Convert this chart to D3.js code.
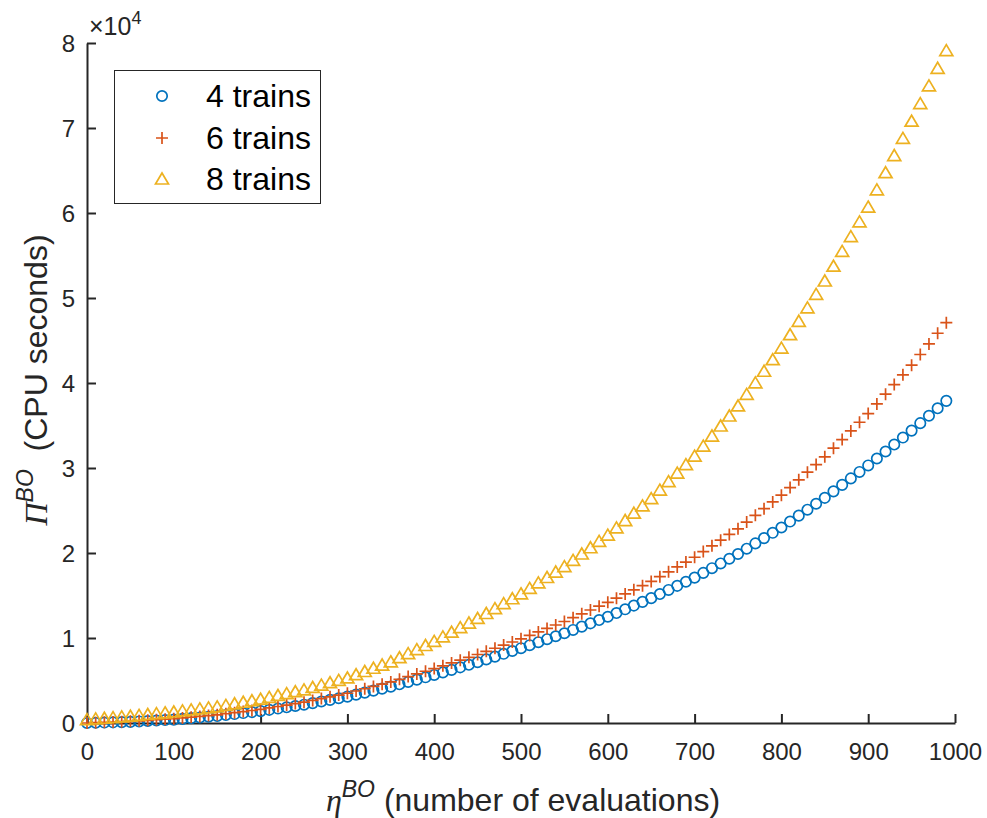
<!DOCTYPE html>
<html><head><meta charset="utf-8">
<script src="https://cdn.jsdelivr.net/npm/d3@7"></script>
<style>body{margin:0;background:#fff}svg{display:block}</style>
</head><body>
<svg id="c" width="987" height="818"></svg>
<script>
const xValues = [0,10,20,30,40,50,60,70,80,90,100,110,120,130,140,150,160,170,180,190,200,210,220,230,240,250,260,270,280,290,300,310,320,330,340,350,360,370,380,390,400,410,420,430,440,450,460,470,480,490,500,510,520,530,540,550,560,570,580,590,600,610,620,630,640,650,660,670,680,690,700,710,720,730,740,750,760,770,780,790,800,810,820,830,840,850,860,870,880,890,900,910,920,930,940,950,960,970,980,990];
const trains4 = [0,26,52,78,104,130,184,238,292,346,400,484,568,652,736,820,936,1052,1168,1284,1400,1550,1700,1850,2000,2150,2340,2530,2720,2910,3100,3336,3572,3808,4044,4280,4554,4828,5102,5376,5650,5950,6250,6550,6850,7150,7480,7810,8140,8470,8800,9152,9504,9856,10208,10560,10948,11336,11724,12112,12500,12938,13376,13814,14252,14690,15172,15654,16136,16618,17100,17656,18212,18768,19324,19880,20504,21128,21752,22376,23000,23698,24396,25094,25792,26490,27252,28014,28776,29538,30300,31120,31940,32760,33580,34400,35275,36150,37025,37900];
const trains6 = [0,40,80,120,160,200,260,320,380,440,500,592,684,776,868,960,1088,1216,1344,1472,1600,1770,1940,2110,2280,2450,2660,2870,3080,3290,3500,3766,4032,4298,4564,4830,5144,5458,5772,6086,6400,6732,7064,7396,7728,8060,8428,8796,9164,9532,9900,10308,10716,11124,11532,11940,12392,12844,13296,13748,14200,14690,15180,15670,16160,16650,17220,17790,18360,18930,19500,20170,20840,21510,22180,22850,23640,24430,25220,26010,26800,27702,28604,29506,30408,31310,32328,33346,34364,35382,36400,37540,38680,39820,40960,42100,43350,44600,45850,47100];
const trains8 = [400,480,560,640,720,800,900,1000,1100,1200,1300,1420,1540,1660,1780,1900,2080,2260,2440,2620,2800,3020,3240,3460,3680,3900,4180,4460,4740,5020,5300,5680,6060,6440,6820,7200,7680,8160,8640,9120,9600,10140,10680,11220,11760,12300,12880,13460,14040,14620,15200,15840,16480,17120,17760,18400,19140,19880,20620,21360,22100,22960,23820,24680,25540,26400,27400,28400,29400,30400,31400,32580,33760,34940,36120,37300,38660,40020,41380,42740,44100,45680,47260,48840,50420,52000,53740,55480,57220,58960,60700,62720,64740,66760,68780,70800,72875,74950,77025,79100];
const seriesNames = ["4 trains","6 trains","8 trains"];
const seriesColors = ["#0072BD","#D95319","#EDB120"];
const seriesMarkers = ["circle","plus","triangle"];
const xTicks = [0,100,200,300,400,500,600,700,800,900,1000];
const xTickLabels = ["0","100","200","300","400","500","600","700","800","900","1000"];
const yTicks = [0,10000,20000,30000,40000,50000,60000,70000,80000];
const yTickLabels = ["0","1","2","3","4","5","6","7","8"];

const svg = d3.select("#c");
const M = {l:87, r:955, t:43, b:723};
const x = d3.scaleLinear().domain([0,1000]).range([M.l, M.r]);
const y = d3.scaleLinear().domain([0,80000]).range([M.b, M.t]);
const axisColor = "#262626";
const tickFont = "Liberation Sans, Arial, Helvetica, sans-serif";

// axes
const gx = svg.append("g").attr("transform",`translate(0,${M.b})`)
  .call(d3.axisBottom(x).tickValues(xTicks).tickFormat((d,i)=>xTickLabels[i]).tickSizeInner(-9).tickSizeOuter(0).tickPadding(20));
const gy = svg.append("g").attr("transform",`translate(${M.l},0)`)
  .call(d3.axisLeft(y).tickValues(yTicks).tickFormat((d,i)=>yTickLabels[i]).tickSizeInner(-9).tickSizeOuter(0).tickPadding(12));
[gx,gy].forEach(g=>{
  g.select(".domain").attr("stroke",axisColor).attr("stroke-width",2);
  g.selectAll(".tick line").attr("stroke",axisColor).attr("stroke-width",2);
  g.selectAll(".tick text").attr("fill",axisColor).style("font-family",tickFont).style("font-size","24px");
});
gy.selectAll(".tick text").attr("dy","0.36em");

// exponent
const ex = svg.append("text").attr("x",89).attr("y",35).attr("fill",axisColor)
  .style("font-family",tickFont).style("font-size","25px");
ex.append("tspan").text("\u00D710");
ex.append("tspan").attr("dy",-11).style("font-size","18px").text("4");

// markers
function markerPath(type){
  if(type==="plus") return "M-6,0L6,0M0,-6L0,6";
  if(type==="triangle") return "M0,-6L6.5,5L-6.5,5Z";
  return null;
}
function drawMarker(g, type, color){
  if(type==="circle"){
    g.append("circle").attr("r",5.2).attr("fill","none").attr("stroke",color).attr("stroke-width",1.7);
  } else {
    g.append("path").attr("d",markerPath(type)).attr("fill","none").attr("stroke",color).attr("stroke-width",1.7);
  }
}
const allSeries = [trains4, trains6, trains8];
allSeries.forEach((vals,si)=>{
  const g = svg.append("g");
  const pts = g.selectAll("g").data(xValues.map((xv,i)=>({x:xv,y:vals[i]}))).join("g")
    .attr("transform",d=>`translate(${x(d.x)},${y(d.y)})`);
  pts.each(function(){ drawMarker(d3.select(this), seriesMarkers[si], seriesColors[si]); });
});

// legend
const lg = svg.append("g");
lg.append("rect").attr("x",114.5).attr("y",70.5).attr("width",206).attr("height",133)
  .attr("fill","#fff").attr("stroke",axisColor).attr("stroke-width",1);
const rowY = [96,138,179];
seriesNames.forEach((n,i)=>{
  const mg = lg.append("g").attr("transform",`translate(162,${rowY[i]})`);
  drawMarker(mg, seriesMarkers[i], seriesColors[i]);
  lg.append("text").attr("x",206).attr("y",rowY[i]+11).attr("fill","#000")
    .style("font-family",tickFont).style("font-size","32px").text(n);
});

// x label
const xl = svg.append("text").attr("x",523).attr("y",811).attr("text-anchor","middle").attr("fill",axisColor)
  .style("font-family",tickFont).style("font-size","32px");
xl.append("tspan").style("font-family","Liberation Serif, Times New Roman, serif").style("font-style","italic").text("\u03B7");
xl.append("tspan").attr("dy",-14).style("font-size","23px").style("font-style","italic").text("BO");
xl.append("tspan").attr("dy",14).text("\u00A0(number of evaluations)");

// y label
const yl = svg.append("text").attr("transform","translate(47,380) rotate(-90)").attr("text-anchor","middle").attr("fill",axisColor)
  .style("font-family",tickFont).style("font-size","32px");
yl.append("tspan").style("font-family","Liberation Serif, Times New Roman, serif").style("font-style","italic").text("\u03A0");
yl.append("tspan").attr("dy",-14).style("font-size","23px").style("font-style","italic").text("BO");
yl.append("tspan").attr("dy",14).text("\u00A0\u00A0(CPU seconds)");
</script>
</body></html>
